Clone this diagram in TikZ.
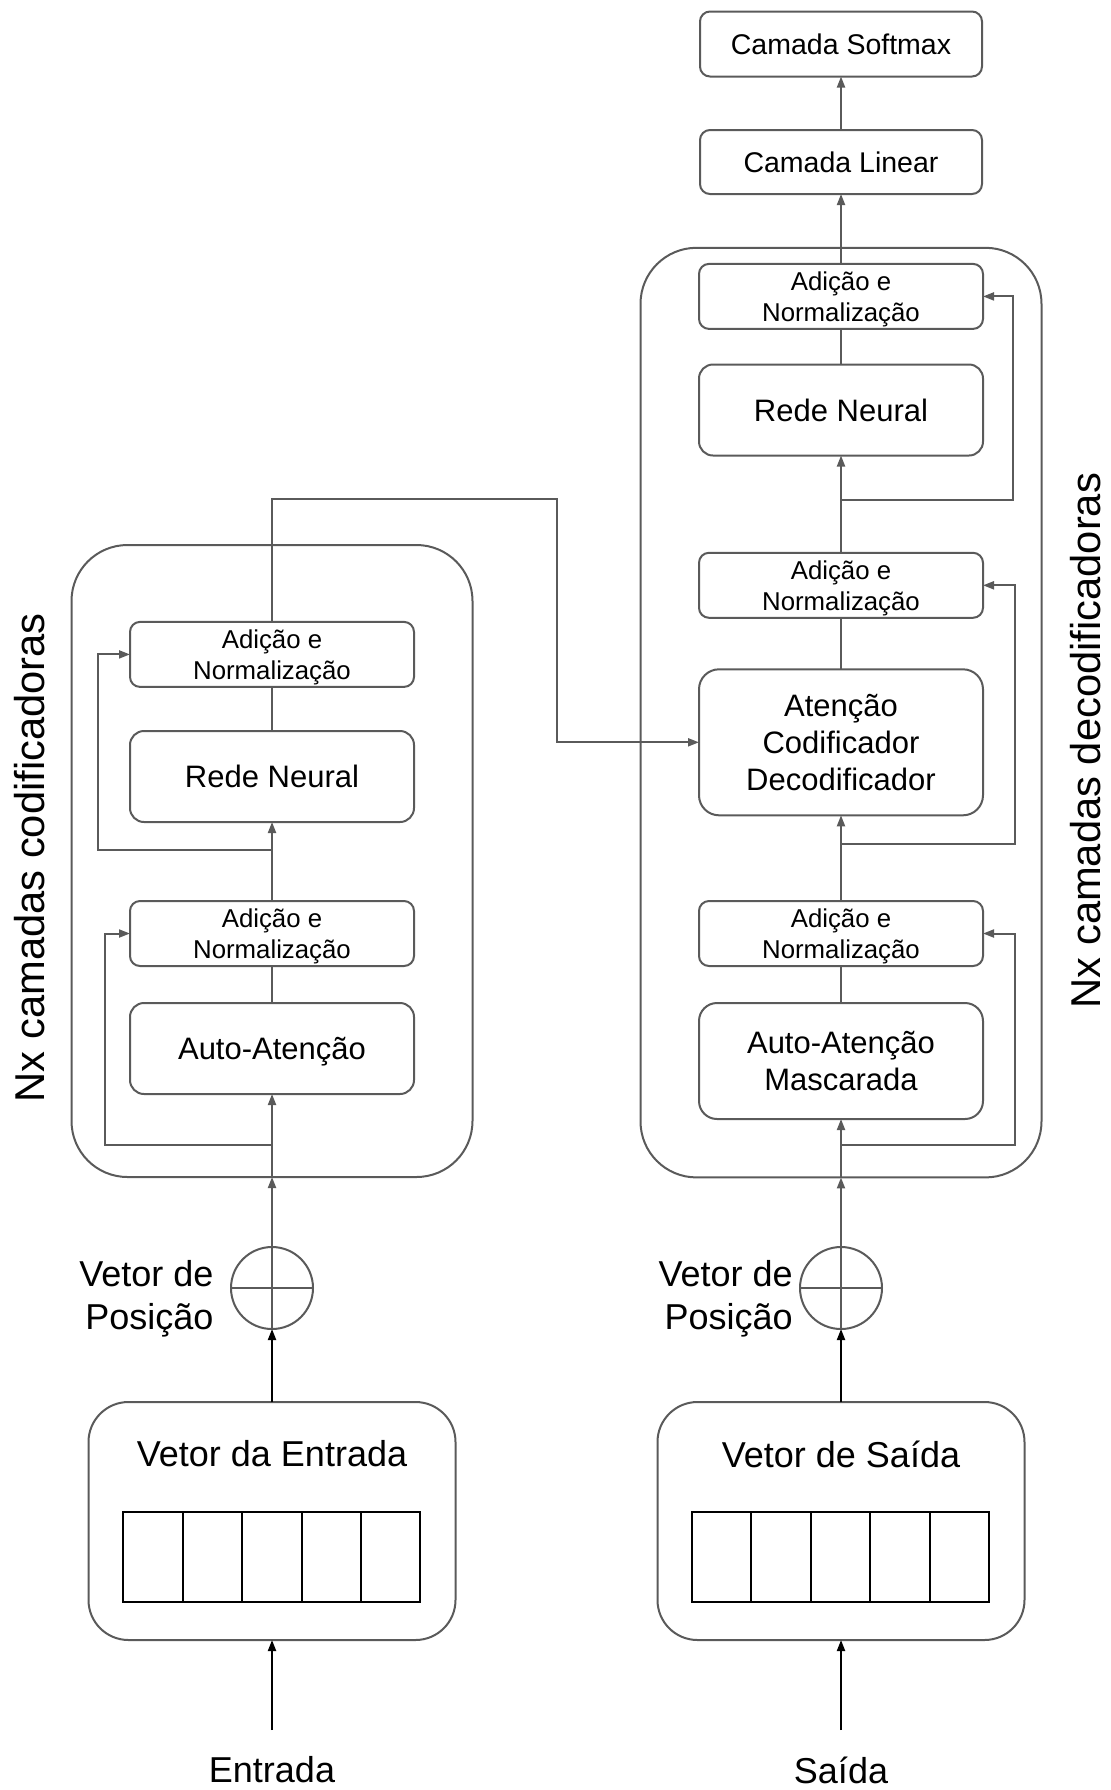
\documentclass[tikz,border=0pt]{standalone}
\usepackage{fontspec}
\setmainfont{Liberation Sans}
\usetikzlibrary{arrows.meta,calc}
\definecolor{ln}{HTML}{5A5A5A}
\begin{document}
\begin{tikzpicture}[x=0.5pt,y=-0.5pt,
  every node/.style={inner sep=0pt, outer sep=0pt},
  box/.style={draw=ln, line width=1pt, rounded corners=5pt, text=black, align=center},
  anbox/.style={box, minimum width=142pt, minimum height=32.5pt, text depth=0pt, font=\fontsize{12.9}{15.4}\selectfont},
  bigbox/.style={box, minimum width=142pt, rounded corners=7pt, text depth=0pt, font=\fontsize{15.5}{18.5}\selectfont},
  cambox/.style={box, minimum width=141pt, font=\fontsize{14.25}{17}\selectfont},
  outerbox/.style={draw=ln, line width=1pt, rounded corners=28pt, minimum width=200.5pt},
  vecbox/.style={draw=ln, line width=1pt, rounded corners=20pt, minimum width=183.5pt, minimum height=119pt},
  cell/.style={draw=black, line width=1pt, minimum width=29.7pt, minimum height=45pt},
  pe/.style={circle, draw=ln, line width=1pt, minimum size=41pt},
  conn/.style={draw=ln, line width=1pt},
  arr/.style={conn, -{Triangle[length=5.5pt,width=4pt]}},
  barr/.style={draw=black, line width=1pt, -{Triangle[length=5.5pt,width=4pt]}},
  big/.style={font=\fontsize{18}{21.7}\selectfont, align=center},
  vlabel/.style={rotate=90, font=\fontsize{20.85}{25}\selectfont},
]
\useasboundingbox (0,0) rectangle (1110,1790);

% ---------------- Encoder ----------------
\node[outerbox, minimum height=316pt] (encO) at (272,861) {};
\node[anbox] (eAN1) at (272,654.4) {Adição e\\Normalização};
\node[bigbox, minimum height=45.5pt] (eFF) at (272,776.5) {Rede Neural};
\node[anbox] (eAN2) at (272,933.5) {Adição e\\Normalização};
\node[bigbox, minimum height=45.5pt] (eSA) at (272,1048.5) {Auto-Atenção};
\node[pe] (ePE) at (272,1288) {};
\node[big, align=right, anchor=east] (ePEl) at (213.5,1298.5) {Vetor de\\Posição};
\node[vecbox] (eVec) at (272,1521) {};
\node[big] (eVecT) at (272,1454) {Vetor da Entrada};
\foreach \i in {0,...,4} {
  \node[cell] (eC\i) at ({123.3+59.4*(\i+0.5)},1557) {};
}
\node[big] (eIn) at (272,1770) {Entrada};
\coordinate (eInTop) at (272,1730);
\node[vlabel] (encL) at (30,857.6) {Nx camadas codificadoras};

\draw[conn] (ePE.west) -- (ePE.east);
\draw[barr] (eInTop) -- (eVec.south);
\draw[barr] (eVec.north) -- (ePE.south);
\draw[arr] (ePE.south) -- (encO.south);
\draw[arr] (encO.south) -- (eSA.south);
\coordinate (eJ1) at (272,1145.4);
\draw[arr] (eJ1) -- ++(-167,0) |- (eAN2.west);
\draw[conn] (eSA.north) -- (eAN2.south);
\coordinate (eJ2) at (272,849.6);
\draw[conn] (eAN2.north) -- (eJ2);
\draw[arr] (eJ2) -- (eFF.south);
\draw[arr] (eJ2) -- ++(-174,0) |- (eAN1.west);
\draw[conn] (eFF.north) -- (eAN1.south);

% ---------------- Decoder ----------------
\node[cambox, minimum height=32.5pt] (soft) at (841,44) {Camada Softmax};
\node[cambox, minimum height=32pt] (lin) at (841,162) {Camada Linear};
\node[outerbox, minimum height=464.8pt] (decO) at (841,712.6) {};
\node[anbox] (dAN3) at (841,296.4) {Adição e\\Normalização};
\node[bigbox, minimum height=45.5pt] (dFF) at (841,410) {Rede Neural};
\node[anbox] (dAN2) at (841,585.3) {Adição e\\Normalização};
\node[bigbox, minimum height=73pt, rounded corners=10pt] (dCA) at (841,742.3) {Atenção\\Codificador\\Decodificador};
\node[anbox] (dAN1) at (841,933.5) {Adição e\\Normalização};
\node[bigbox, minimum height=58pt, rounded corners=9pt] (dSA) at (841,1061) {Auto-Atenção\\Mascarada};
\node[pe] (dPE) at (841,1288) {};
\node[big, align=right, anchor=east] (dPEl) at (792.6,1298.5) {Vetor de\\Posição};
\node[vecbox] (dVec) at (841,1521) {};
\node[big] (dVecT) at (841,1454) {Vetor de Saída};
\foreach \i in {0,...,4} {
  \node[cell] (dC\i) at ({692+59.4*(\i+0.5)},1557) {};
}
\node[big] (dIn) at (841,1770) {Saída};
\coordinate (dInTop) at (841,1730);
\node[vlabel] (decL) at (1086,740.6) {Nx camadas decodificadoras};

\draw[conn] (dPE.west) -- (dPE.east);
\draw[barr] (dInTop) -- (dVec.south);
\draw[barr] (dVec.north) -- (dPE.south);
\draw[arr] (dPE.south) -- (decO.south);
\draw[arr] (decO.south) -- (dSA.south);
\coordinate (dJ1) at (841,1145.4);
\draw[arr] (dJ1) -- ++(174,0) |- (dAN1.east);
\draw[conn] (dSA.north) -- (dAN1.south);
\coordinate (dJ2) at (841,844);
\draw[conn] (dAN1.north) -- (dJ2);
\draw[arr] (dJ2) -- (dCA.south);
\draw[arr] (dJ2) -- ++(174,0) |- (dAN2.east);
\draw[conn] (dCA.north) -- (dAN2.south);
\coordinate (dJ3) at (841,500.2);
\draw[conn] (dAN2.north) -- (dJ3);
\draw[arr] (dJ3) -- (dFF.south);
\draw[arr] (dJ3) -- ++(172,0) |- (dAN3.east);
\draw[conn] (dFF.north) -- (dAN3.south);
\draw[arr] (dAN3.north) -- (lin.south);
\draw[arr] (lin.north) -- (soft.south);

% ---------------- Encoder to decoder ----------------
\draw[arr] (eAN1.north) |- (557,499) |- (dCA.west);
\end{tikzpicture}
\end{document}
